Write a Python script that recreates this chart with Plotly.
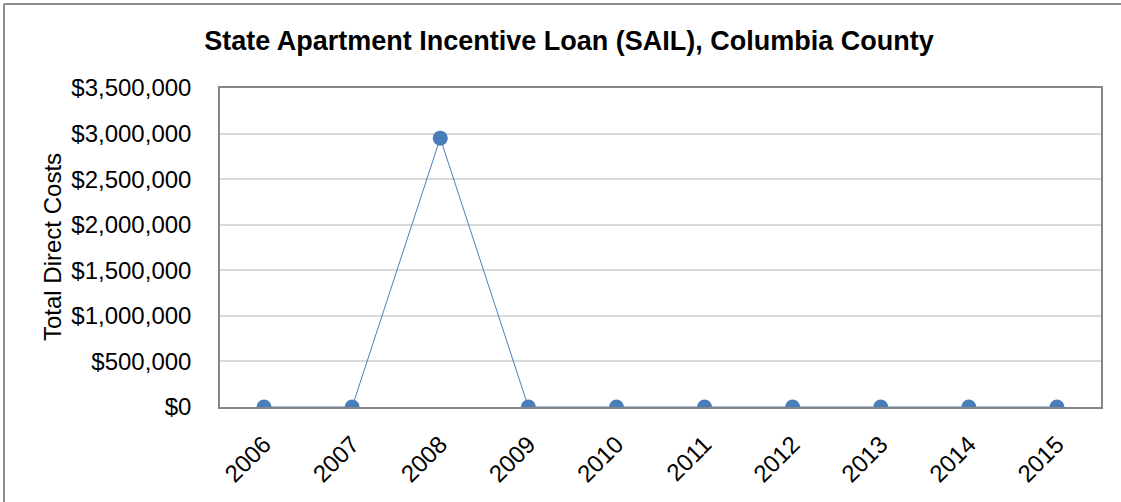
import plotly.graph_objects as go

years = ["2006", "2007", "2008", "2009", "2010", "2011", "2012", "2013", "2014", "2015"]
costs = [0, 0, 2950000, 0, 0, 0, 0, 0, 0, 0]
y_ticks = [0, 500000, 1000000, 1500000, 2000000, 2500000, 3000000, 3500000]
y_tick_labels = ["$0", "$500,000", "$1,000,000", "$1,500,000", "$2,000,000",
                 "$2,500,000", "$3,000,000", "$3,500,000"]

W, H = 1121, 502
L, R, T, B = 220, 20, 88, 95
pw, ph = W - L - R, H - T - B

fig = go.Figure()
fig.add_trace(go.Scatter(
    x=years, y=costs, mode="lines+markers",
    line=dict(color="#4a7ebb", width=1),
    marker=dict(color="#4a7ebb", size=15),
    cliponaxis=True,
))

axis_color = "#868686"
fig.update_layout(
    width=W, height=H,
    margin=dict(l=L, r=R, t=T, b=B, autoexpand=False),
    paper_bgcolor="white", plot_bgcolor="white",
    showlegend=False,
    title=dict(text="<b>State Apartment Incentive Loan (SAIL), Columbia County</b>",
               x=569 / W, xref="container", xanchor="center",
               y=(H - 41) / H, yref="container", yanchor="middle",
               font=dict(family="Liberation Sans, Arial", size=27, color="black")),
    font=dict(family="Liberation Sans, Arial", color="black"),
)
fig.update_xaxes(
    type="category", range=[-0.5, 9.5],
    showline=True, linecolor=axis_color, linewidth=1.5, mirror=True,
    showgrid=False, ticks="", tickangle=-45, ticklabelstandoff=12,
    tickfont=dict(size=24, family="Liberation Sans, Arial", color="black"),
)
fig.update_yaxes(
    range=[0, 3500000], tickvals=y_ticks, ticktext=y_tick_labels,
    showline=True, linecolor=axis_color, linewidth=1.5, mirror=True,
    showgrid=True, gridcolor="#d9d9d9", gridwidth=1.5,
    zeroline=False, ticks="", ticklabelstandoff=22,
    tickfont=dict(size=24, family="Liberation Sans, Arial", color="black"),
)
fig.add_annotation(
    text="Total Direct Costs", textangle=-90,
    xref="paper", yref="paper",
    x=(52 - L) / pw, y=(H - B - 247) / ph,
    xanchor="center", yanchor="middle", showarrow=False,
    font=dict(size=24, family="Liberation Sans, Arial", color="black"),
)
# outer chart frame (left and top edges visible)
fig.add_shape(type="line", xref="paper", yref="paper",
              x0=(4 - L) / pw, x1=(4 - L) / pw, y0=(H - B - H) / ph, y1=(H - B - 4) / ph,
              line=dict(color="#8c8c8c", width=2))
fig.add_shape(type="line", xref="paper", yref="paper",
              x0=(4 - L) / pw, x1=(W - L) / pw, y0=(H - B - 4) / ph, y1=(H - B - 4) / ph,
              line=dict(color="#8c8c8c", width=2))

fig.write_html("out.html", config={"displayModeBar": False},
               post_script="document.body.style.margin='0';document.body.style.overflow='hidden';")
